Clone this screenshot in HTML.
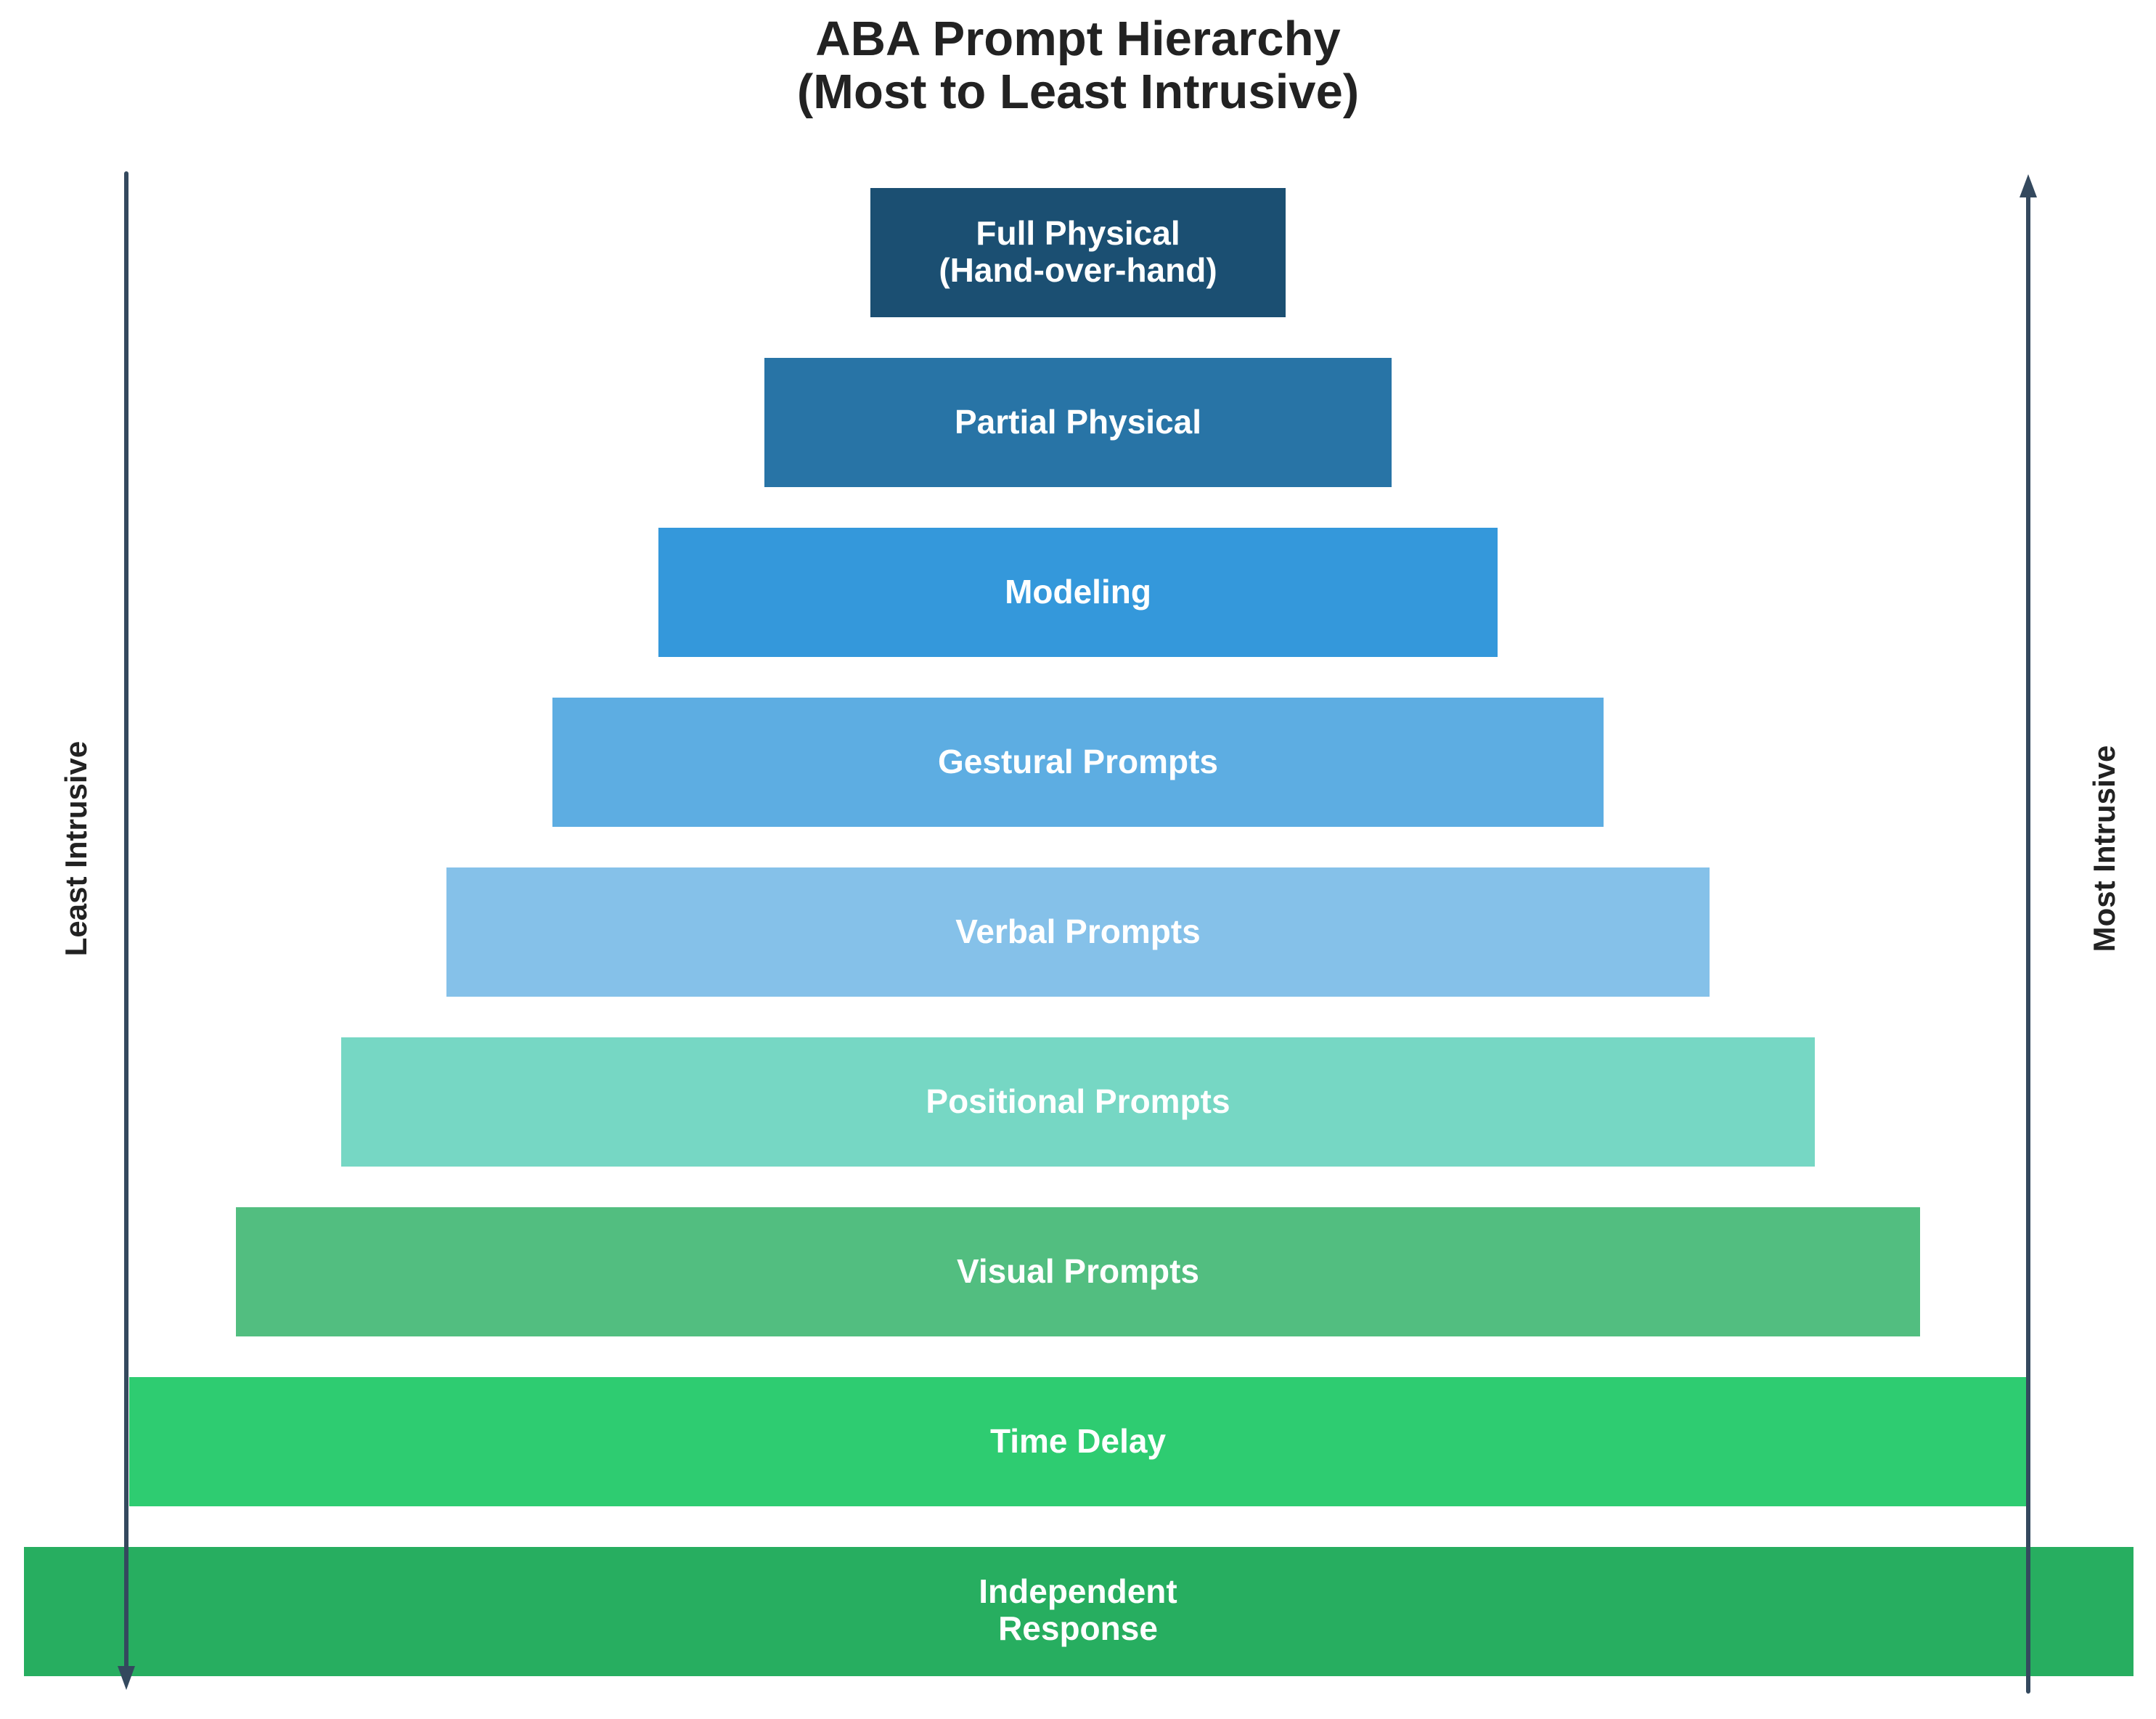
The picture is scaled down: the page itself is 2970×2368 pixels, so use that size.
<!DOCTYPE html>
<html><head><meta charset="utf-8"><style>
html,body{margin:0;padding:0;background:#fff;}
svg{display:block;}
text{font-family:"Liberation Sans",Arial,sans-serif;font-weight:bold;}
</style></head><body>
<svg width="2970" height="2368" viewBox="0 0 2970 2368" xmlns="http://www.w3.org/2000/svg">
<rect width="2970" height="2368" fill="#fff"/>
<text x="1485" y="76" font-size="67" fill="#222" text-anchor="middle">ABA Prompt Hierarchy</text>
<text x="1485" y="149" font-size="67" fill="#222" text-anchor="middle">(Most to Least Intrusive)</text>

<rect x="1199" y="259" width="572" height="178" fill="#1b4f72"/>
<rect x="1053" y="493" width="864" height="178" fill="#2874a6"/>
<rect x="907" y="727" width="1156" height="178" fill="#3498db"/>
<rect x="761" y="961" width="1448" height="178" fill="#5dade2"/>
<rect x="615" y="1195" width="1740" height="178" fill="#85c1e9"/>
<rect x="470" y="1429" width="2030" height="178" fill="#76d7c4"/>
<rect x="325" y="1663" width="2320" height="178" fill="#52be80"/>
<rect x="178" y="1897" width="2614" height="178" fill="#2ecc71"/>
<rect x="33" y="2131" width="2906" height="178" fill="#27ae60"/>

<g font-size="46" fill="#fff" text-anchor="middle">
<text x="1485" y="337">Full Physical</text>
<text x="1485" y="388">(Hand-over-hand)</text>
<text x="1485" y="597">Partial Physical</text>
<text x="1485" y="831">Modeling</text>
<text x="1485" y="1065">Gestural Prompts</text>
<text x="1485" y="1299">Verbal Prompts</text>
<text x="1485" y="1533">Positional Prompts</text>
<text x="1485" y="1767">Visual Prompts</text>
<text x="1485" y="2001">Time Delay</text>
<text x="1485" y="2208">Independent</text>
<text x="1485" y="2259">Response</text>
</g>

<line x1="174" y1="239" x2="174" y2="2305" stroke="#34495e" stroke-width="6" stroke-linecap="round"/>
<polygon points="162,2295 186,2295 174,2328" fill="#34495e"/>
<line x1="2794" y1="2330" x2="2794" y2="262" stroke="#34495e" stroke-width="6" stroke-linecap="round"/>
<polygon points="2782,272 2806,272 2794,240" fill="#34495e"/>

<text transform="translate(119,1169) rotate(-90)" font-size="42" fill="#222" text-anchor="middle">Least Intrusive</text>
<text transform="translate(2913,1169) rotate(-90)" font-size="42" fill="#222" text-anchor="middle">Most Intrusive</text>
</svg>
</body></html>
